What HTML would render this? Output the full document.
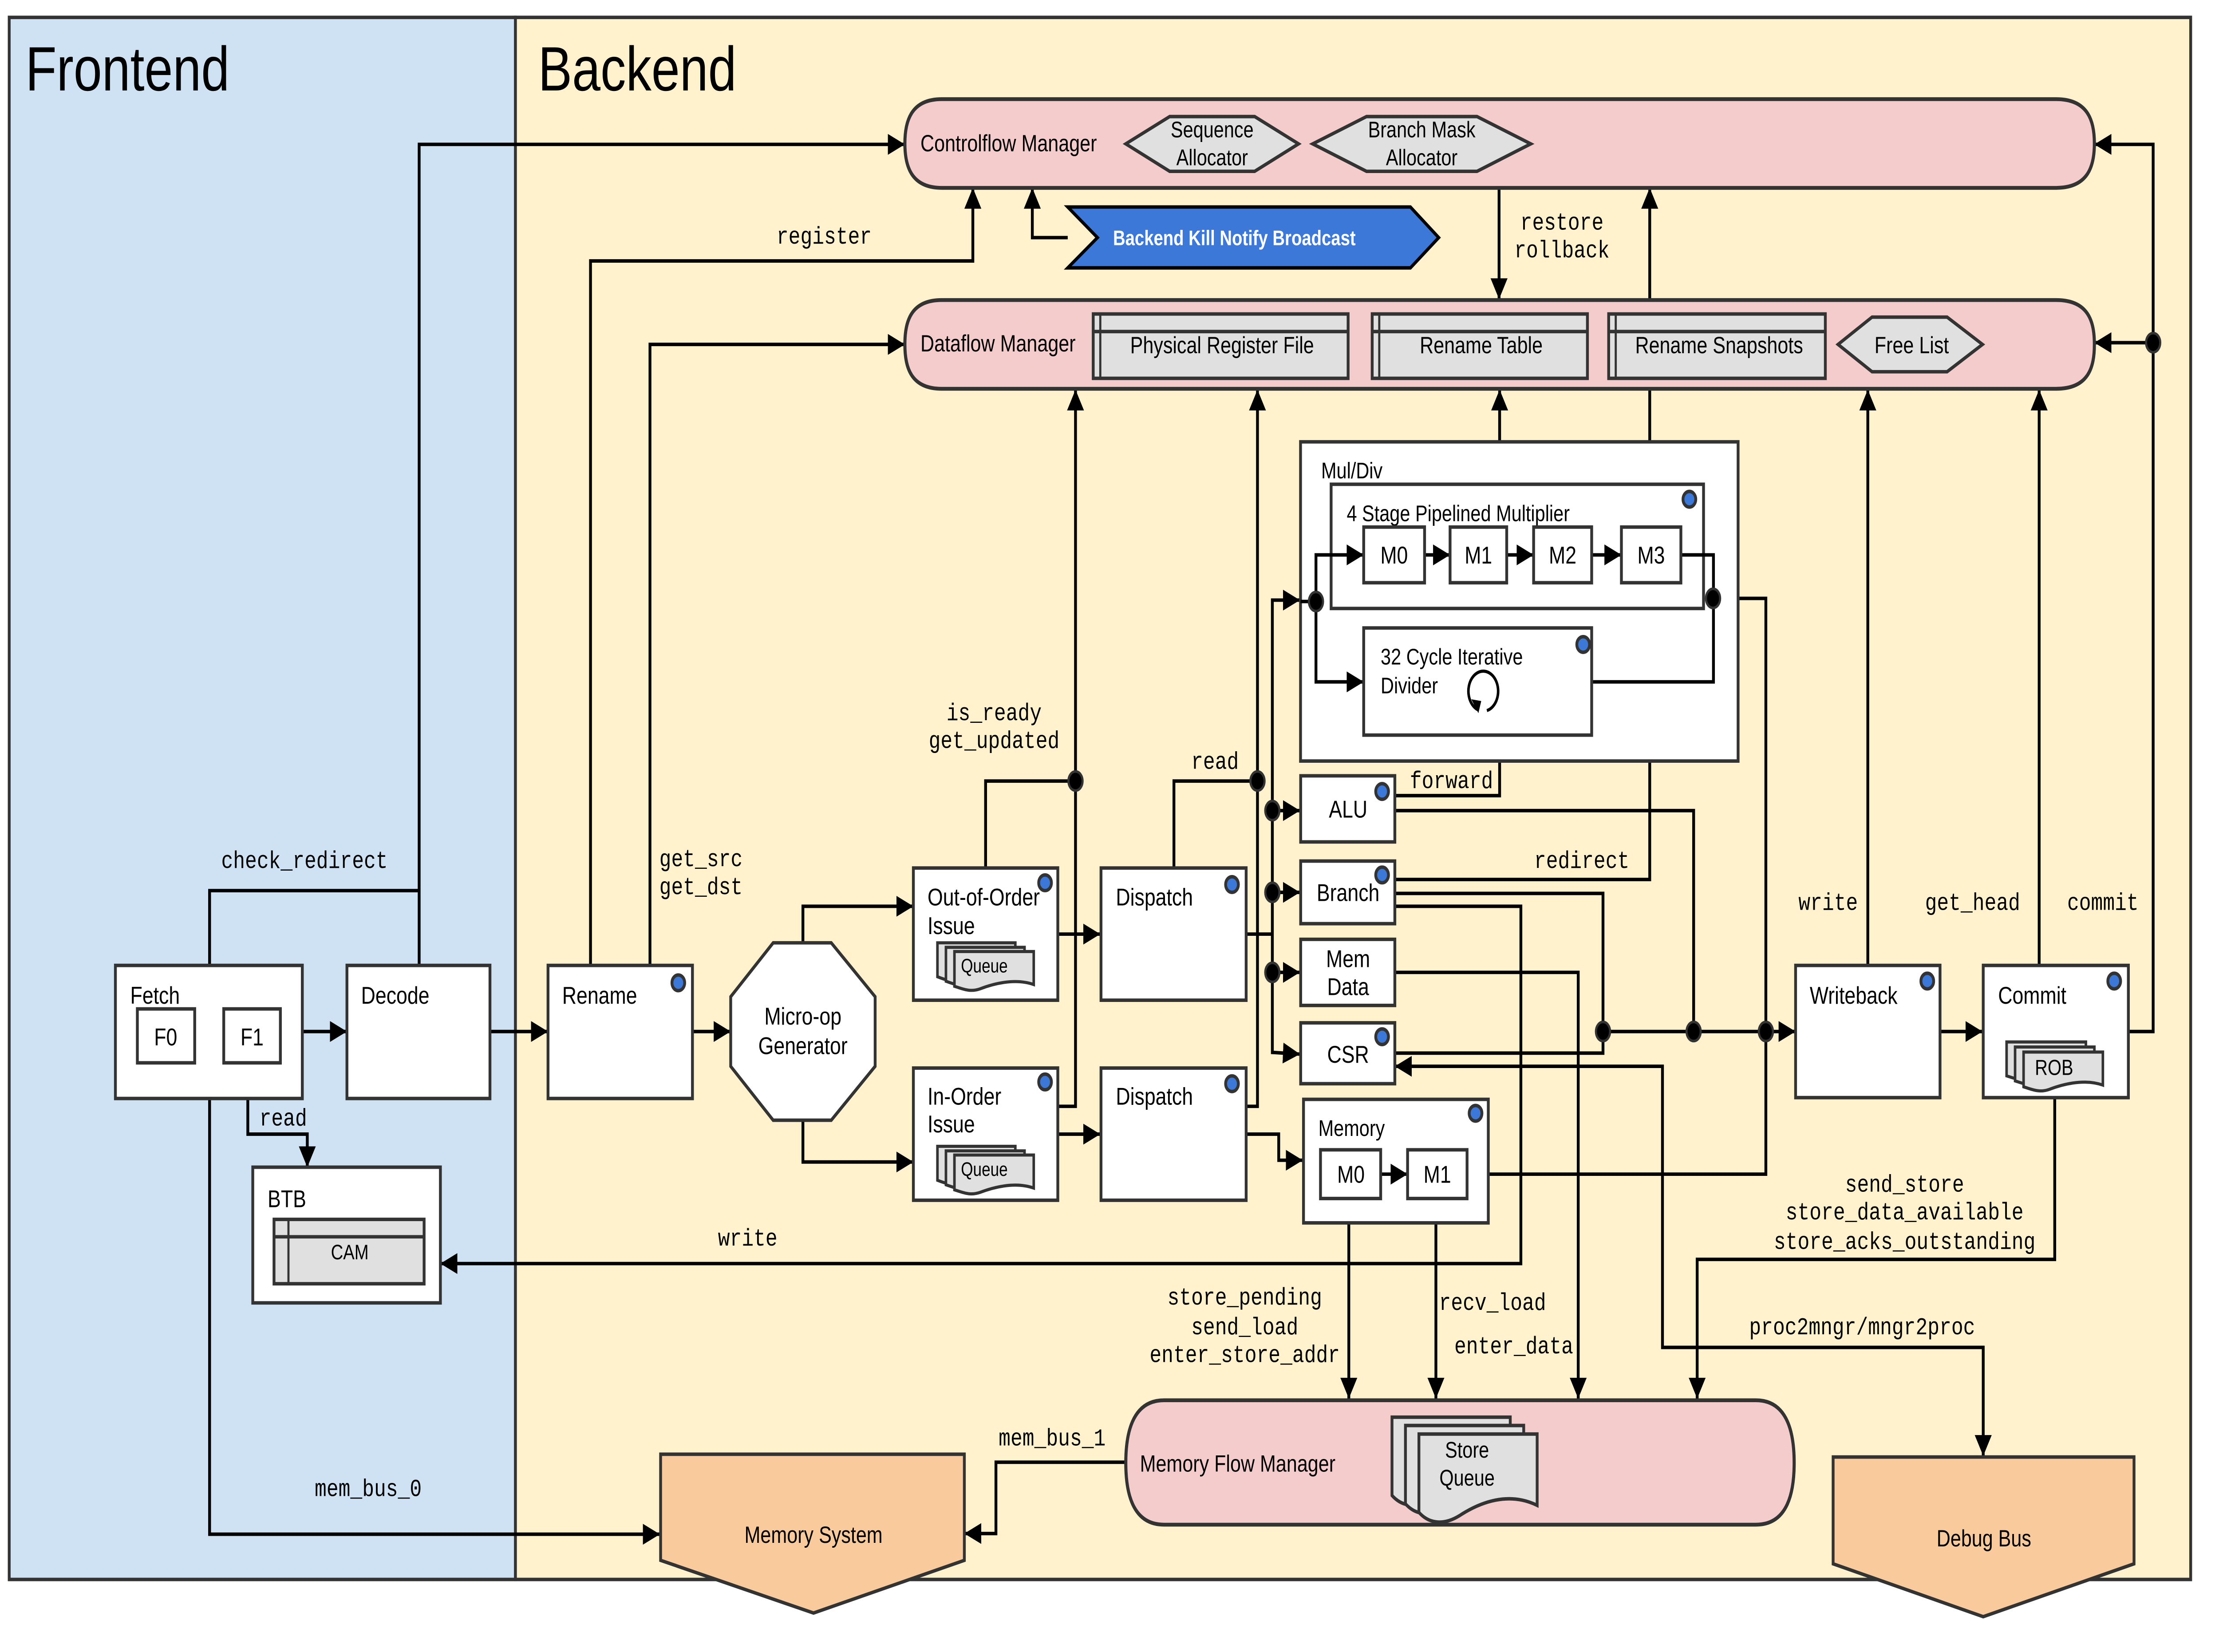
<!DOCTYPE html>
<html><head><meta charset="utf-8"><style>
html,body{margin:0;padding:0;background:#fff;width:100%;height:100%;overflow:hidden;}
svg{display:block;position:absolute;left:0;top:0;width:100vw;height:100vh;}
text{font-family:"Liberation Sans",Arial,sans-serif;fill:#000;}
.m{font-family:"Liberation Mono","DejaVu Sans Mono",monospace;font-size:14px;text-anchor:middle;}
.t{font-size:14px;}
.c{text-anchor:middle;}
.box{fill:#fff;stroke:#333;stroke-width:2;}
.ln{fill:none;stroke:#000;stroke-width:2;}
.a{marker-end:url(#ar);}
.g{fill:#e0e0e0;stroke:#333;stroke-width:2;}
.pill{fill:#f4cccc;stroke:#333;stroke-width:2.2;}
.bd{fill:#3c78d8;stroke:#333;stroke-width:2;}
.dt{fill:#000;stroke:#333;stroke-width:1.5;}
.or{fill:#f9cb9c;stroke:#333;stroke-width:2;}
</style></head><body>
<svg viewBox="0 0 1567 949.7" preserveAspectRatio="none" xmlns="http://www.w3.org/2000/svg">
<defs>
<marker id="ar" markerUnits="userSpaceOnUse" markerWidth="12" markerHeight="12" refX="12" refY="6" orient="auto-start-reverse" viewBox="0 0 12 12">
<path d="M0,0 L12,6 L0,12 z" fill="#000"/>
</marker>
</defs>
<rect x="0" y="0" width="1567" height="949.7" fill="#fff"/>
<rect x="6.5" y="10" width="357.5" height="898" fill="#cfe2f3" stroke="#333" stroke-width="2"/>
<rect x="364" y="10" width="1183" height="898" fill="#fff2cc" stroke="#333" stroke-width="2"/>
<text x="18" y="52" style="font-size:36px">Frontend</text>
<text x="380" y="52" style="font-size:36px">Backend</text>

<polyline class="ln a" points="296,555 296,83 639,83"/>
<polyline class="ln" points="148,555 148,512 296,512"/>
<polyline class="ln a" points="214,593 245,593"/>
<polyline class="ln a" points="137.5,596 158,596"/>
<polyline class="ln a" points="148,631 148,882 466,882"/>
<polyline class="ln a" points="175,631 175,652 217,652 217,671"/>
<polyline class="ln a" points="346,593 387,593"/>
<polyline class="ln a" points="417,555 417,150 687,150 687,108"/>
<polyline class="ln a" points="459,555 459,198 639,198"/>
<polyline class="ln a" points="489,593 516,593"/>
<polyline class="ln a" points="567,542 567,521 645,521"/>
<polyline class="ln a" points="567,644 567,668 645,668"/>
<polyline class="ln a" points="747,537 777,537"/>
<polyline class="ln a" points="747,652 777,652"/>
<polyline class="ln" points="696,499 696,449 759.5,449"/>
<polyline class="ln a" points="747,636 759.5,636 759.5,224"/>
<polyline class="ln" points="829,499 829,449 888,449"/>
<polyline class="ln a" points="880,636 888,636 888,224"/>
<polyline class="ln" points="880,537 898.5,537"/>
<polyline class="ln a" points="898.5,606 898.5,345 918,345"/>
<polyline class="ln a" points="898.5,466 918,466"/>
<polyline class="ln a" points="898.5,513 918,513"/>
<polyline class="ln a" points="898.5,559 918,559"/>
<polyline class="ln a" points="898.5,605 918,606"/>
<polyline class="ln a" points="880,652 903,652 903,667 920,667"/>
<polyline class="ln a" points="754,136.6 729,136.6 729,108"/>
<polyline class="ln a" points="1058.6,108 1058.6,172"/>
<polyline class="ln a" points="985,505.6 1165,505.6 1165,108"/>
<polyline class="ln a" points="985,457.4 1059,457.4 1059,224"/>
<polyline class="ln" points="985,466 1196,466 1196,593"/>
<polyline class="ln" points="985,513.6 1132,513.6 1132,593"/>
<polyline class="ln a" points="985,521 1074,521 1074,726.4 311,726.4"/>
<polyline class="ln a" points="985,559 1114.5,559 1114.5,804"/>
<polyline class="ln" points="985,605.4 1132,605.4 1132,593"/>
<polyline class="ln a" style="marker-start:url(#ar)" points="985,613 1174,613 1174,774.6 1400.5,774.6 1400.5,837"/>
<polyline class="ln a" points="1132,593 1268,593"/>
<polyline class="ln" points="1210,344 1247,344 1247,675 1036,675"/>
<polyline class="ln a" points="1370,593 1400,593"/>
<polyline class="ln a" points="1319,555 1319,224"/>
<polyline class="ln a" points="1440,555 1440,224"/>
<polyline class="ln a" points="1503,593 1520.5,593 1520.5,83 1479,83"/>
<polyline class="ln a" points="1520.5,197 1479,197"/>
<polyline class="ln a" points="1451,631 1451,724 1198.5,724 1198.5,804"/>
<polyline class="ln a" points="952.5,689 952.5,804"/>
<polyline class="ln a" points="1014,689 1014,804"/>
<polyline class="ln a" points="795,840.6 703.3,840.6 703.3,881.6 681,881.6"/>

<path class="pill" d="M665,57 H1452 C1475,57 1479,70 1479,82.5 C1479,95 1475,108 1452,108 H665 C643,108 639,95 639,82.5 C639,70 643,57 665,57 Z"/>
<text x="650" y="87" style="font-size:13.5px">Controlflow Manager</text>
<polygon class="g" points="795,82.7 826,67 886,67 917,82.7 886,98.5 826,98.5"/>
<text class="c" x="856" y="79" style="font-size:13px">Sequence</text>
<text class="c" x="856" y="95" style="font-size:13px">Allocator</text>
<polygon class="g" points="927,82.7 965,67 1043,67 1081,82.7 1043,98.5 965,98.5"/>
<text class="c" x="1004" y="79" style="font-size:13px">Branch Mask</text>
<text class="c" x="1004" y="95" style="font-size:13px">Allocator</text>

<polygon points="754,119 996,119 1016,136.6 996,154 754,154 775,136.6" fill="#3c78d8" stroke="#000" stroke-width="2"/>
<text x="786" y="141" style="font-size:12px;font-weight:bold;fill:#fff">Backend Kill Notify Broadcast</text>

<path class="pill" d="M665,172.5 H1452 C1475,172.5 1479,185 1479,198 C1479,211 1475,223.5 1452,223.5 H665 C643,223.5 639,211 639,198 C639,185 643,172.5 665,172.5 Z"/>
<text x="650" y="202" style="font-size:13.5px">Dataflow Manager</text>
<rect class="g" x="772" y="180.5" width="180" height="37"/><line x1="772" y1="190.6" x2="952" y2="190.6" stroke="#333" stroke-width="2"/><line x1="777" y1="180.5" x2="777" y2="217.5" stroke="#333" stroke-width="1.5"/>
<text class="c" x="863" y="203" style="font-size:13.5px">Physical Register File</text>
<rect class="g" x="969" y="180.5" width="152" height="37"/><line x1="969" y1="190.6" x2="1121" y2="190.6" stroke="#333" stroke-width="2"/><line x1="974" y1="180.5" x2="974" y2="217.5" stroke="#333" stroke-width="1.5"/>
<text class="c" x="1046" y="203" style="font-size:13.5px">Rename Table</text>
<rect class="g" x="1136" y="180.5" width="153" height="37"/><line x1="1136" y1="190.6" x2="1289" y2="190.6" stroke="#333" stroke-width="2"/><line x1="1141" y1="180.5" x2="1141" y2="217.5" stroke="#333" stroke-width="1.5"/>
<text class="c" x="1214" y="203" style="font-size:13.5px">Rename Snapshots</text>
<polygon class="g" points="1298,198 1322,182.3 1375,182.3 1400,198 1375,213.7 1322,213.7"/>
<text class="c" x="1350" y="203" style="font-size:13.5px">Free List</text>

<path class="pill" d="M822,805 H1240 C1263,805 1267,825 1267,841 C1267,857 1263,876.5 1240,876.5 H822 C799,876.5 795,857 795,841 C795,825 799,805 822,805 Z"/>
<text x="805" y="846" style="font-size:13.5px">Memory Flow Manager</text>
<path class="g" d="M983,814.7 h83.5 v41 c-20,-8 -40,-2 -55,6 c-12,6 -22,4 -28.5,-2 z"/>
<path class="g" d="M992.5,819.5 h83.5 v41 c-20,-8 -40,-2 -55,6 c-12,6 -22,4 -28.5,-2 z"/>
<path class="g" d="M1002,824.4 h83.5 v41 c-20,-8 -40,-2 -55,6 c-12,6 -22,4 -28.5,-2 z"/>
<text class="c" x="1036" y="838" style="font-size:13px">Store</text>
<text class="c" x="1036" y="854" style="font-size:13px">Queue</text>

<polygon class="or" points="466.5,836 681,836 681,897 574.5,927.3 466.5,897"/>
<text class="c" x="574.5" y="887" style="font-size:13.5px">Memory System</text>
<polygon class="or" points="1294.5,837.6 1507,837.6 1507,899 1400.5,929.4 1294.5,899"/>
<text class="c" x="1401" y="889" style="font-size:13.5px">Debug Bus</text>

<rect class="box" x="81.5" y="555" width="132" height="76.5"/>
<text x="92" y="577" class="t">Fetch</text>
<rect class="box" x="97" y="580" width="40.5" height="31"/><text class="c t" x="117" y="601">F0</text>
<rect class="box" x="158" y="580" width="40" height="31"/><text class="c t" x="178" y="601">F1</text>
<rect class="box" x="245" y="555" width="101" height="76.5"/>
<text x="255" y="577" class="t">Decode</text>
<rect class="box" x="178.5" y="671" width="132.5" height="78"/>
<text x="189" y="694" class="t">BTB</text>
<rect class="g" x="193.5" y="701" width="106" height="37"/><line x1="193.5" y1="711" x2="299.5" y2="711" stroke="#333" stroke-width="2"/><line x1="203.7" y1="701" x2="203.7" y2="738" stroke="#333" stroke-width="1.5"/>
<text class="c" x="247" y="724" style="font-size:12px">CAM</text>

<rect class="box" x="387" y="555" width="102" height="76.5"/>
<text x="397" y="577" class="t">Rename</text><circle class="bd" cx="479" cy="565" r="4.5"/>
<polygon class="box" points="546,542 587,542 618,573 618,613 587,644 546,644 516,613 516,573"/>
<text class="c t" x="567" y="589">Micro-op</text>
<text class="c t" x="567" y="606">Generator</text>

<rect class="box" x="645" y="499" width="102" height="76"/>
<text x="655" y="520.5" class="t">Out-of-Order</text><text x="655" y="537" class="t">Issue</text><circle class="bd" cx="738" cy="507.5" r="4.5"/>
<rect class="box" x="645" y="614" width="102" height="76"/>
<text x="655" y="635" class="t">In-Order</text><text x="655" y="651" class="t">Issue</text><circle class="bd" cx="738" cy="622" r="4.5"/>
<g>
<path class="g" d="M662,542 h55 v18 c-14,-4 -30,0 -38,3 c-7,2 -12,0 -17,-1.5 z" style="stroke-width:1.8"/>
<path class="g" d="M668,544.6 h55.5 v18 c-14,-4 -30,0 -38,3 c-7,2 -12,0 -17.5,-1.5 z" style="stroke-width:1.8"/>
<path class="g" d="M674,547 h56 v19 c-14,-4 -30,0 -38,2.5 c-7,2 -12,0 -18,-1.5 z" style="stroke-width:1.8"/>
<text x="678.6" y="559" style="font-size:11px">Queue</text>
</g>
<g transform="translate(0,117)">
<path class="g" d="M662,542 h55 v18 c-14,-4 -30,0 -38,3 c-7,2 -12,0 -17,-1.5 z" style="stroke-width:1.8"/>
<path class="g" d="M668,544.6 h55.5 v18 c-14,-4 -30,0 -38,3 c-7,2 -12,0 -17.5,-1.5 z" style="stroke-width:1.8"/>
<path class="g" d="M674,547 h56 v19 c-14,-4 -30,0 -38,2.5 c-7,2 -12,0 -18,-1.5 z" style="stroke-width:1.8"/>
<text x="678.6" y="559" style="font-size:11px">Queue</text>
</g>

<rect class="box" x="777.5" y="499" width="102.5" height="76"/>
<text x="788" y="520.5" class="t">Dispatch</text><circle class="bd" cx="870" cy="508.5" r="4.5"/>
<rect class="box" x="777.5" y="614" width="102.5" height="76"/>
<text x="788" y="635" class="t">Dispatch</text><circle class="bd" cx="870" cy="623" r="4.5"/>

<rect class="box" x="918.4" y="254" width="309" height="183.5"/>
<text x="933" y="275" style="font-size:13px">Mul/Div</text>
<rect class="box" x="940" y="278.4" width="263" height="71.4"/>
<text x="951" y="299.6" style="font-size:13px">4 Stage Pipelined Multiplier</text><circle class="bd" cx="1193" cy="287" r="4.5"/>
<polyline class="ln a" points="918.4,345.8 929.3,345.8 929.3,319 963,319"/>
<polyline class="ln a" points="929.3,345.8 929.3,392 963,392"/>
<polyline class="ln a" points="1006,319 1024,319"/>
<polyline class="ln a" points="1064,319 1083,319"/>
<polyline class="ln a" points="1124,319 1145,319"/>
<polyline class="ln" points="1187,319 1210,319 1210,392 1124,392"/>
<rect class="box" x="963" y="303" width="43" height="32"/><text class="c t" x="984.5" y="324">M0</text>
<rect class="box" x="1024" y="303" width="40" height="32"/><text class="c t" x="1044" y="324">M1</text>
<rect class="box" x="1083" y="303" width="41" height="32"/><text class="c t" x="1103.5" y="324">M2</text>
<rect class="box" x="1145" y="303" width="42" height="32"/><text class="c t" x="1166" y="324">M3</text>
<rect class="box" x="963" y="361" width="161" height="61.6"/>
<text x="975" y="382" style="font-size:13px">32 Cycle Iterative</text>
<text x="975" y="398.6" style="font-size:13px">Divider</text>
<circle class="bd" cx="1118" cy="370.5" r="4.5"/>
<path d="M1043.5,408 A10.5,11.5 0 1 1 1050,408.5" fill="none" stroke="#000" stroke-width="1.8"/>
<path d="M1039,402 L1046,403 L1044,410 z" fill="#000"/>

<rect class="box" x="918.5" y="446" width="66.5" height="38"/><text class="c t" x="952" y="470">ALU</text><circle class="bd" cx="976" cy="455" r="4.5"/>
<rect class="box" x="918.5" y="495" width="66.5" height="36"/><text class="c t" x="952" y="518">Branch</text><circle class="bd" cx="976" cy="503" r="4.5"/>
<rect class="box" x="918.5" y="540" width="66.5" height="38"/><text class="c t" x="952" y="556">Mem</text><text class="c t" x="952" y="572">Data</text>
<rect class="box" x="918.5" y="588" width="66.5" height="35"/><text class="c t" x="952" y="611">CSR</text><circle class="bd" cx="976" cy="596" r="4.5"/>
<rect class="box" x="920.5" y="632" width="130.5" height="71"/><text x="931" y="653" style="font-size:13px">Memory</text><circle class="bd" cx="1042" cy="640" r="4.5"/>
<polyline class="ln a" points="975,675 994,675"/>
<rect class="box" x="932.5" y="661" width="42.5" height="28"/><text class="c t" x="954" y="680">M0</text>
<rect class="box" x="994" y="661" width="42" height="28"/><text class="c t" x="1015" y="680">M1</text>

<rect class="box" x="1268" y="555" width="102" height="76"/>
<text x="1278" y="577" class="t">Writeback</text><circle class="bd" cx="1361" cy="564" r="4.5"/>
<rect class="box" x="1400.5" y="555" width="102.5" height="76"/>
<text x="1411" y="577" class="t">Commit</text><circle class="bd" cx="1493" cy="564" r="4.5"/>
<path class="g" d="M1417,599 h56 v18 c-14,-4 -30,0 -38,3 c-7,2 -12,0 -18,-1.5 z" style="stroke-width:1.8"/>
<path class="g" d="M1423,601.9 h56 v18 c-14,-4 -30,0 -38,3 c-7,2 -12,0 -18,-1.5 z" style="stroke-width:1.8"/>
<path class="g" d="M1429,604.8 h56 v19 c-14,-4 -30,0 -38,2.5 c-7,2 -12,0 -18,-1.5 z" style="stroke-width:1.8"/>
<text x="1437" y="618" style="font-size:12.5px">ROB</text>

<ellipse class="dt" cx="759.5" cy="449" rx="5" ry="5.5"/>
<ellipse class="dt" cx="888" cy="449" rx="5" ry="5.5"/>
<ellipse class="dt" cx="898.5" cy="466" rx="5" ry="5.5"/>
<ellipse class="dt" cx="898.5" cy="513" rx="5" ry="5.5"/>
<ellipse class="dt" cx="898.5" cy="559" rx="5" ry="5.5"/>
<ellipse class="dt" cx="929.3" cy="345.8" rx="5" ry="5.5"/>
<ellipse class="dt" cx="1209.7" cy="344" rx="5" ry="5.5"/>
<ellipse class="dt" cx="1132" cy="593" rx="5" ry="5.5"/>
<ellipse class="dt" cx="1196" cy="593" rx="5" ry="5.5"/>
<ellipse class="dt" cx="1247" cy="593" rx="5" ry="5.5"/>
<ellipse class="dt" cx="1520.5" cy="197" rx="5" ry="5.5"/>

<text class="m" x="582" y="140">register</text>
<text class="m" x="215" y="499">check_redirect</text>
<text class="m" x="495" y="498">get_src</text>
<text class="m" x="495" y="514">get_dst</text>
<text class="m" x="702" y="414">is_ready</text>
<text class="m" x="702" y="430">get_updated</text>
<text class="m" x="858" y="442">read</text>
<text class="m" x="200" y="647">read</text>
<text class="m" x="1103" y="132">restore</text>
<text class="m" x="1103" y="148">rollback</text>
<text class="m" x="1025" y="453">forward</text>
<text class="m" x="1117" y="499">redirect</text>
<text class="m" x="528" y="716">write</text>
<text class="m" x="1291" y="523">write</text>
<text class="m" x="1393" y="523">get_head</text>
<text class="m" x="1485" y="523">commit</text>
<text class="m" x="1345" y="685">send_store</text>
<text class="m" x="1345" y="701">store_data_available</text>
<text class="m" x="1345" y="718">store_acks_outstanding</text>
<text class="m" x="879" y="750">store_pending</text>
<text class="m" x="879" y="767">send_load</text>
<text class="m" x="879" y="783">enter_store_addr</text>
<text class="m" x="1054" y="753">recv_load</text>
<text class="m" x="1069" y="778">enter_data</text>
<text class="m" x="1315" y="767">proc2mngr/mngr2proc</text>
<text class="m" x="260" y="860">mem_bus_0</text>
<text class="m" x="743" y="831">mem_bus_1</text>
</svg>
</body></html>
